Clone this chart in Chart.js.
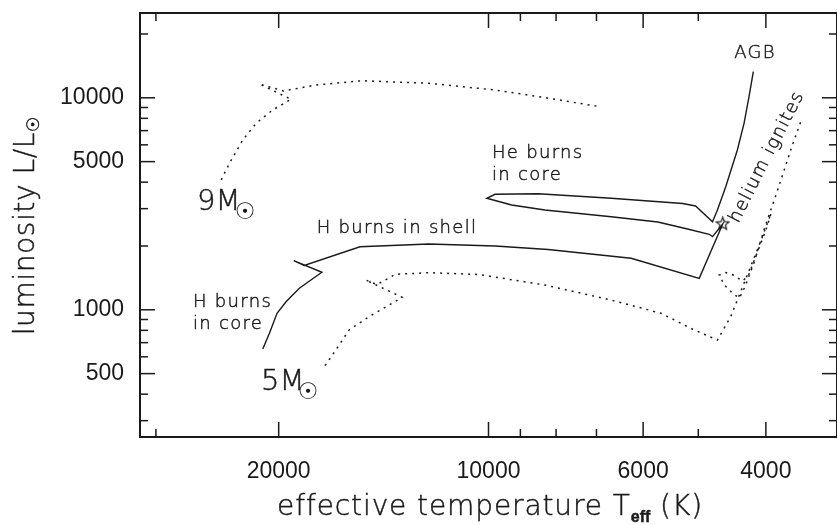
<!DOCTYPE html>
<html>
<head>
<meta charset="utf-8">
<script src="https://cdn.jsdelivr.net/npm/chart.js@4.4.0/dist/chart.umd.min.js"></script>
<style>
  html, body { margin: 0; padding: 0; overflow: hidden; background: #fff; }
  #wrap { width: 845px; height: 525px; }
</style>
</head>
<body>
<div id="wrap"><canvas id="hrd" width="845" height="525"></canvas></div>
<script>
// evolutionary tracks: effective temperature (K) and luminosity (L/Lsun)
const solidTeff = [21080, 20620, 20110, 19520, 18680, 17980, 17340, 19030, 18380, 15290, 12180, 9784, 8211, 6243, 4985,
  4613, 4771, 4823, 5181, 5716, 6668, 8299, 9264, 10055, 9784, 8487, 6668, 5265, 5046, 4771, 4694, 4567, 4395, 4299, 4229, 4169];
const solidLum = [653, 775, 963, 1092, 1263, 1382, 1503, 1705, 1619, 1984, 2044, 2000, 1925, 1750, 1408,
  2540, 2213, 2271, 2405, 2596, 2749, 2957, 3122, 3357, 3506, 3529, 3357, 3172, 3088, 2604, 2957, 3808, 5674, 7581, 10120, 13280];

const track9Teff = [24180, 23530, 22520, 21550, 20400, 19200, 21320, 19690, 17690, 15180, 12180, 9784, 8487, 6920];
const track9Lum = [4097, 4910, 6324, 7581, 8761, 9838, 11620, 10770, 11490, 12040, 11710, 10880, 10140, 9079];

const track5Teff = [17160, 16560, 15850, 14840, 13890, 13300, 15010, 14450, 13590, 12180, 10330, 8299, 6668, 5656, 5067, 4694, 4493, 4395,
  4225, 4062, 3930, 4008, 4129, 4239, 4323, 4454, 4571, 4668, 4586, 4454, 4365, 4281, 4156, 4008, 3890, 3765, 3668, 3549];
const track5Lum = [545, 646, 803, 928, 1053, 1146, 1382, 1316, 1471, 1496, 1468, 1309, 1112, 963, 803, 720, 928, 1112,
  1541, 2135, 2862, 2329, 1814, 1443, 1367, 1459, 1499, 1459, 1309, 1187, 1137, 1295, 1681, 2485, 3295, 4565, 5925, 8031];

// helium ignition marker
const starTeff = [4613];
const starLum = [2540];

// axis ticks
const tempTicks = [30000, 20000, 10000, 9000, 8000, 7000, 6000, 5000, 4000];
const tempLabels = [20000, 10000, 6000, 4000];
const lumTicks = [300, 400, 500, 600, 700, 800, 900, 1000, 2000, 3000, 4000, 5000, 6000, 7000, 8000, 9000, 10000, 20000];
const lumLabels = [500, 1000, 5000, 10000];

const ink = '#1a1a1a';
const thin = '"DejaVu Sans", sans-serif';
const tickFont = '"Liberation Sans", Arial, sans-serif';

const toPoints = (xs, ys) => xs.map((x, i) => ({ x: x, y: ys[i] }));

function starImage(size) {
  const c = document.createElement('canvas');
  c.width = c.height = size;
  const g = c.getContext('2d');
  const r1 = size / 2 - 1, r2 = r1 * 0.45;
  g.beginPath();
  for (let i = 0; i < 10; i++) {
    const r = i % 2 ? r2 : r1;
    const a = -Math.PI / 2 + i * Math.PI / 5;
    g.lineTo(size / 2 + r * Math.cos(a), size / 2 + r * Math.sin(a));
  }
  g.closePath();
  g.fillStyle = '#fff';
  g.fill();
  g.strokeStyle = ink;
  g.lineWidth = 1.2;
  g.stroke();
  return c;
}

// thin text, filled and lightly stroked so it reads darker
function put(ctx, t, x, y) {
  ctx.fillText(t, x, y);
  ctx.strokeText(t, x, y);
}

// draw a row of text pieces, each {t, font, dy, sp}
function textRun(ctx, parts, x, y, align) {
  let w = 0;
  parts.forEach(p => { ctx.font = p.font; ctx.letterSpacing = p.sp || '0px'; w += ctx.measureText(p.t).width; });
  let cx = align === 'center' ? x - w / 2 : x;
  ctx.textAlign = 'left';
  parts.forEach(p => {
    ctx.font = p.font;
    ctx.letterSpacing = p.sp || '0px';
    put(ctx, p.t, cx, y + (p.dy || 0));
    cx += ctx.measureText(p.t).width;
  });
  ctx.letterSpacing = '0px';
}

const frame = {
  id: 'frame',
  afterDraw(chart) {
    const { ctx, chartArea: a } = chart;
    const xs = chart.scales.x, ys = chart.scales.y;
    ctx.save();
    ctx.strokeStyle = ink;
    ctx.lineWidth = 2;
    ctx.strokeRect(a.left, a.top, a.right - a.left, a.bottom - a.top);

    ctx.lineWidth = 1.5;
    const seg = (x1, y1, x2, y2) => { ctx.beginPath(); ctx.moveTo(x1, y1); ctx.lineTo(x2, y2); ctx.stroke(); };
    tempTicks.forEach(v => {
      const px = xs.getPixelForValue(v);
      const len = tempLabels.includes(v) ? 15 : 8;
      seg(px, a.bottom, px, a.bottom - len);
      seg(px, a.top, px, a.top + len);
    });
    lumTicks.forEach(v => {
      const py = ys.getPixelForValue(v);
      const len = lumLabels.includes(v) ? 15 : 8;
      seg(a.left, py, a.left + len, py);
      seg(a.right, py, a.right - len, py);
    });

    ctx.fillStyle = ink;
    ctx.lineWidth = 0.45;
    ctx.textBaseline = 'alphabetic';

    // axis titles
    textRun(ctx, [
      { t: 'effective temperature T', font: '200 28px ' + thin, sp: '0.9px' },
      { t: 'eff', font: 'bold 16px ' + tickFont, dy: 7, sp: '0px' },
      { t: ' (K)', font: '200 28px ' + thin, sp: '0.9px' }
    ], 490, 515, 'center');

    ctx.save();
    ctx.translate(34, 226);
    ctx.rotate(-Math.PI / 2);
    textRun(ctx, [
      { t: 'luminosity L/L', font: '200 28px ' + thin, sp: '0.6px' },
      { t: '\u2609', font: '17px ' + thin, dy: 5 }
    ], 0, 0, 'center');
    ctx.restore();

    // annotations
    ctx.font = '200 18px ' + thin;
    ctx.letterSpacing = '1.3px';
    ctx.textAlign = 'center';
    put(ctx, 'H burns in shell', 397, 233);
    put(ctx, 'AGB', 755, 58);
    ctx.textAlign = 'left';
    put(ctx, 'He burns', 492, 158);
    put(ctx, 'in core', 492, 180);
    put(ctx, 'H burns', 193, 307);
    put(ctx, 'in core', 193, 329);

    ctx.save();
    ctx.translate(767, 157);
    ctx.rotate(-63 * Math.PI / 180);
    ctx.textAlign = 'center';
    ctx.textBaseline = 'middle';
    put(ctx, 'helium ignites', 0, 0);
    ctx.restore();

    // mass labels
    ctx.letterSpacing = '0px';
    ctx.font = '200 29px ' + thin;
    ctx.textAlign = 'left';
    put(ctx, '9M', 197, 210);
    put(ctx, '5M', 261, 390);
    ctx.font = '23px ' + thin;
    ctx.textAlign = 'center';
    ctx.textBaseline = 'middle';
    ctx.fillText('\u2609', 245, 213);
    ctx.fillText('\u2609', 308, 393);

    ctx.restore();
  }
};

new Chart(document.getElementById('hrd'), {
  type: 'scatter',
  data: {
    datasets: [
      { data: toPoints(track9Teff, track9Lum), showLine: true, borderColor: ink, borderWidth: 1.5, borderDash: [2, 5], pointRadius: 0 },
      { data: toPoints(track5Teff, track5Lum), showLine: true, borderColor: ink, borderWidth: 1.5, borderDash: [2, 5], pointRadius: 0 },
      { data: toPoints(solidTeff, solidLum), showLine: true, borderColor: ink, borderWidth: 1.4, pointRadius: 0 },
      { data: toPoints(starTeff, starLum), pointStyle: starImage(15), pointRadius: 7 }
    ]
  },
  options: {
    responsive: false,
    animation: false,
    devicePixelRatio: 1,
    layout: { padding: { top: 13, right: 5, left: 0, bottom: 0 } },
    plugins: { legend: { display: false }, tooltip: { enabled: false } },
    scales: {
      x: {
        type: 'logarithmic',
        reverse: true,
        min: 3162.28,
        max: 31622.8,
        afterBuildTicks: s => { s.ticks = tempTicks.map(v => ({ value: v })); },
        afterFit: s => { s.height = 88; s.paddingLeft = 0; s.paddingRight = 0; },
        grid: { display: false },
        border: { display: false },
        ticks: {
          autoSkip: false,
          maxRotation: 0,
          padding: 13,
          color: ink,
          font: { family: tickFont, size: 23 },
          callback: v => tempLabels.includes(v) ? String(v) : ''
        }
      },
      y: {
        type: 'logarithmic',
        min: 251.19,
        max: 25118.9,
        afterBuildTicks: s => { s.ticks = lumTicks.map(v => ({ value: v })); },
        afterFit: s => { s.width = 140; s.paddingTop = 0; s.paddingBottom = 0; },
        grid: { display: false },
        border: { display: false },
        ticks: {
          autoSkip: false,
          padding: 8,
          color: ink,
          font: { family: tickFont, size: 23 },
          callback: v => lumLabels.includes(v) ? String(v) : ''
        }
      }
    }
  },
  plugins: [frame]
});
</script>
</body>
</html>
